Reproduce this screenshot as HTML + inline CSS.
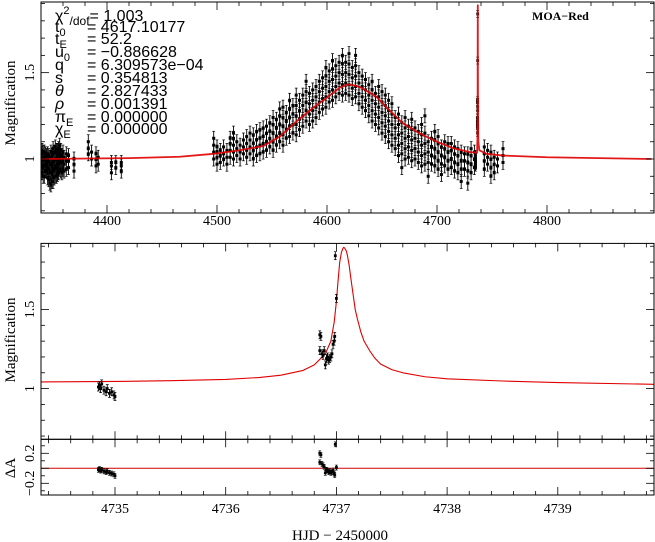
<!DOCTYPE html>
<html><head><meta charset="utf-8">
<style>
html,body{margin:0;padding:0;background:#fff;}
svg{display:block;}
text{font-family:"Liberation Serif",serif;fill:#000;}
.ann{font-family:"Liberation Sans",sans-serif;font-size:16px;}
</style></head>
<body>
<svg id="chart" width="655" height="542" viewBox="0 0 655 542" xmlns="http://www.w3.org/2000/svg">
<defs>
<clipPath id="clipTop"><rect x="41" y="2" width="613" height="211"/></clipPath>
<clipPath id="clipBot"><rect x="41" y="243.4" width="613" height="196"/></clipPath>
<clipPath id="clipRes"><rect x="41" y="439.3" width="613" height="56"/></clipPath>
</defs>
<g id="top"></g>
<g id="bot"></g>
<g id="res"></g>
<g id="ann">
<text class="ann" x="55" y="21">χ<tspan font-size="11" dy="-7">2</tspan><tspan font-size="12" dy="11">/dof</tspan><tspan dy="-4">= 1.003</tspan></text>
<text class="ann" x="55" y="32">t<tspan font-size="11" dy="4">0</tspan><tspan x="87" dy="-4">= 4617.10177</tspan></text>
<text class="ann" x="55" y="44">t<tspan font-size="11" dy="4">E</tspan><tspan x="87" dy="-4">= 52.2</tspan></text>
<text class="ann" x="55" y="57">u<tspan font-size="11" dy="4">0</tspan><tspan x="87" dy="-4">= −0.886628</tspan></text>
<text class="ann" x="55" y="70">q<tspan x="87">= 6.309573e−04</tspan></text>
<text class="ann" x="55" y="83">s<tspan x="87">= 0.354813</tspan></text>
<text class="ann" x="55" y="96" font-style="italic">θ<tspan x="87" font-style="normal">= 2.827433</tspan></text>
<text class="ann" x="55" y="109" font-style="italic">ρ<tspan x="87" font-style="normal">= 0.001391</tspan></text>
<text class="ann" x="55" y="122">π<tspan font-size="11" dy="4">E</tspan><tspan x="87" dy="-4">= 0.000000</tspan></text>
<text class="ann" x="55" y="134">χ<tspan font-size="11" dy="4">E</tspan><tspan x="87" dy="-4">= 0.000000</tspan></text>
</g>
<text x="532" y="20" font-size="12" font-weight="bold">MOA−Red</text>
<text x="340" y="540" font-size="15" text-anchor="middle">HJD − 2450000</text>
<text transform="translate(15,103) rotate(-90)" font-size="15" text-anchor="middle">Magnification</text>
<text transform="translate(15,340) rotate(-90)" font-size="15" text-anchor="middle">Magnification</text>
<text transform="translate(15,468) rotate(-90)" font-size="15" text-anchor="middle">ΔA</text>
</svg>
<script>
// ---- data ----
const modelTopT = [4340,4420,4466,4497,4520,4542,4557,4572,4587,4603,4612,4619,4626,4632,4645,4657,4669,4684,4700,4715,4730,4736.4,4736.8,4736.95,4737.02,4737.07,4737.15,4737.3,4737.6,4738.5,4745,4760,4800,4895];
const modelTopA = [1.0,1.005,1.013,1.03,1.05,1.075,1.13,1.216,1.295,1.37,1.415,1.432,1.425,1.41,1.36,1.28,1.207,1.149,1.10,1.062,1.04,1.036,1.12,1.30,1.7,1.89,1.55,1.22,1.10,1.05,1.03,1.02,1.01,1.0];
const modelBotT = [4734.33,4735,4735.5,4736,4736.3,4736.5,4736.7,4736.8,4736.9,4736.95,4736.98,4737.0,4737.01,4737.03,4737.045,4737.058,4737.066,4737.075,4737.09,4737.1,4737.115,4737.13,4737.15,4737.17,4737.19,4737.22,4737.25,4737.3,4737.35,4737.4,4737.5,4737.6,4737.8,4738,4738.5,4739,4739.87];
const modelBotA = [1.042,1.045,1.050,1.058,1.070,1.085,1.115,1.15,1.22,1.30,1.42,1.55,1.64,1.80,1.86,1.885,1.893,1.888,1.87,1.84,1.78,1.70,1.60,1.50,1.44,1.36,1.30,1.24,1.19,1.155,1.12,1.10,1.075,1.062,1.048,1.038,1.027];
const nightT = [4341,4342,4343,4344,4345,4346,4347,4348,4349,4350,4351,4352,4353,4354,4355,4356,4357,4358,4359,4360,4361,4363,4365,4370,4383,4386,4390,4392,4404,4408,4413,
4497,4500,4503,4506,4509,4512,4515,4518,4521,4524,4527,4530,4533,4536,4539,4542,4545,4548,4551,4554,4557,4560,4563,4566,4569,4572,4575,4578,4581,4584,4587,4590,4593,4596,4599,4602,4605,4608,4611,4614,4617,4620,4623,4626,4629,4632,4635,4638,4641,4644,4647,4650,4653,4656,4659,4662,4665,4668,4671,4674,4677,4680,4683,4686,4689,4692,4695,4698,4701,4704,4707,4710,4713,4716,4719,4722,4725,4728,4731,4734,4743,4746,4749,4752,4755,4760];
const nightA = [[.92,.97,1.0,1.03,1.05],[.90,.95,.99,1.04],[.90,.96,1.01,1.04],[.93,.97,1.0,1.03],[.93,.98,1.02,.96],[.89,.95,.99,1.03],[.88,.94,.99,1.02],[.86,.92,.97,1.01],[.85,.92,.97,1.01,1.04],[.87,.91,.96,1.02],[.87,.93,.98,1.03,1.06],[.89,.94,.99,1.04],[.90,.96,1.0,1.04,1.07],[.90,.95,1.0,1.05],[.91,.97,1.02,1.05],[.92,.97,1.01,1.06],[.94,.99,1.03,1.08],[.93,.98,1.02,1.05],[.92,.98,1.02],[.94,.99,1.04],[.93,.97,1.01],[.94,.99,1.03],[.95,.99,1.02],[.93,.97,1.0],[1.03,1.06,1.10],[1.0,1.04],[.96,1.0,1.03],[.97,1.01],[.92,.96,.98],[.95,.98],[.93,.96,.98],
[1.00,1.04,1.08,1.12],[.97,1.01,1.04,1.07],[.98,1.02,1.05],[1.00,1.03,1.07],[.97,1.01,1.05],[1.01,1.05,1.09,1.12],[1.00,1.04,1.08,1.12,1.15],[1.02,1.06,1.10],[1.00,1.04,1.08],[1.03,1.07,1.11],[1.01,1.05,1.09,1.13],[1.03,1.07,1.11,1.15],[1.00,1.05,1.09,1.14],[1.02,1.07,1.11,1.16],[1.03,1.08,1.12,1.17],[1.04,1.09,1.13,1.18],[1.05,1.10,1.15,1.19],[1.07,1.12,1.16,1.21],[1.05,1.10,1.15,1.20,1.24],[1.08,1.13,1.18,1.23],[1.10,1.15,1.20,1.25,1.29],[1.08,1.14,1.19,1.24,1.30],[1.12,1.17,1.22,1.27],[1.13,1.19,1.24,1.29,1.34],[1.15,1.20,1.26,1.31],[1.14,1.20,1.25,1.31,1.37],[1.17,1.23,1.28,1.34],[1.19,1.25,1.31,1.37],[1.22,1.28,1.33,1.39,1.45],[1.20,1.26,1.32,1.38],[1.22,1.28,1.34,1.40],[1.24,1.30,1.36,1.42],[1.27,1.33,1.39,1.45],[1.29,1.35,1.41,1.47],[1.30,1.36,1.42,1.48,1.53],[1.33,1.39,1.45,1.51],[1.34,1.40,1.46,1.52,1.57],[1.36,1.42,1.48,1.54],[1.38,1.44,1.50,1.56],[1.37,1.43,1.49,1.55,1.60],[1.38,1.44,1.50,1.56],[1.37,1.43,1.49,1.55,1.61],[1.35,1.41,1.47,1.53],[1.36,1.42,1.48,1.54,1.60],[1.32,1.38,1.44,1.50],[1.30,1.36,1.42,1.48],[1.28,1.34,1.40,1.46],[1.25,1.31,1.37,1.43],[1.22,1.28,1.34,1.40,1.45],[1.20,1.26,1.32,1.38],[1.18,1.24,1.30,1.36,1.42],[1.15,1.21,1.27,1.33,1.39],[1.13,1.19,1.25,1.31,1.37],[1.10,1.16,1.22,1.28,1.34],[1.08,1.14,1.20,1.26,1.32],[1.06,1.12,1.18,1.24],[1.02,1.08,1.14,1.20,1.26],[.95,1.03,1.09,1.15,1.21],[1.00,1.06,1.12,1.18,1.24],[1.01,1.07,1.13,1.19],[.99,1.05,1.11,1.17,1.23],[1.00,1.06,1.12,1.18],[.98,1.04,1.10,1.16],[.96,1.02,1.08,1.14,1.20],[.97,1.03,1.09,1.15,1.25],[.90,.98,1.04,1.10],[.97,1.02,1.07,1.12],[.96,1.01,1.06,1.11,1.16],[.94,.99,1.04,1.09,1.13],[.91,.97,1.02,1.07],[.96,1.01,1.06,1.10],[.94,.99,1.04,1.09],[.95,1.00,1.05,1.09],[.93,.98,1.03,1.07],[.92,.97,1.02,1.06],[.87,.94,.99,1.04],[.94,.99,1.03],[.86,.93,.98,1.03],[.92,.97,1.02,1.06],[.95,1.00,1.04],[.94,.99,1.03,1.07],[.97,1.01,1.05],[.90,.95,1.00,1.04],[.92,.97,1.01],[.96,1.00],[.98,1.02,1.06]];
const zoomT = [4734.85,4734.86,4734.87,4734.88,4734.9,4734.92,4734.93,4734.95,4734.97,4734.99,4735.0,4736.85,4736.86,4736.85,4736.87,4736.88,4736.89,4736.9,4736.91,4736.92,4736.93,4736.94,4736.95,4736.96,4736.97,4736.98,4736.985,4736.99,4737.0];
const zoomA = [1.01,1.02,1.00,1.03,0.99,0.98,1.00,0.97,0.98,0.96,0.95,1.34,1.33,1.24,1.22,1.21,1.24,1.15,1.19,1.20,1.18,1.19,1.20,1.22,1.28,1.30,1.33,1.84,1.57];
const residD = [-0.02,-0.01,-0.03,-0.02,-0.04,-0.05,-0.04,-0.06,-0.07,-0.08,-0.10,0.20,0.18,0.08,0.06,0.04,0.02,-0.06,-0.02,-0.03,-0.05,-0.04,-0.06,-0.05,-0.03,-0.07,-0.09,0.32,0.01];
const topXTicks = [4400,4500,4600,4700,4800];
const botXTicks = [4735,4736,4737,4738,4739];
const yTickLabels = ["1","1.5"];
const resTickLabels = ["−0.2","0.2"];

// ---- scales ----
const xT=t=>41+(t-4340)*1.1, yT=a=>159-(a-1)*172.7;
const xB=t=>115+(t-4735)*110.7, yB=a=>388.6-(a-1)*158.2;
const yR=d=>468.3-d*75;
const NS='http://www.w3.org/2000/svg';
function mk(parent,tag,attrs){const e=document.createElementNS(NS,tag);for(const k in attrs)e.setAttribute(k,attrs[k]);parent.appendChild(e);return e;}
function pathFrom(T,A,fx,fy){return T.map((t,i)=>(i?'L':'M')+fx(t).toFixed(2)+','+fy(A[i]).toFixed(2)).join('');}
function point(g,x,y,e,name,sz){
  sz=sz||2.8;
  const grp=mk(g,'g',{});
  
  
  mk(grp,'line',{x1:x,x2:x,y1:y-e,y2:y+e,stroke:'#000','stroke-width':0.9});
  mk(grp,'line',{x1:x-1.4,x2:x+1.4,y1:y-e,y2:y-e,stroke:'#000','stroke-width':0.7});
  mk(grp,'line',{x1:x-1.4,x2:x+1.4,y1:y+e,y2:y+e,stroke:'#000','stroke-width':0.7});
  mk(grp,'rect',{x:x-sz/2,y:y-sz/2,width:sz,height:sz,fill:'#000'});
}
function frame(g,x0,y0,x1,y1,name){
  const r=mk(g,'rect',{x:x0,y:y0,width:x1-x0,height:y1-y0,fill:'none',stroke:'#000','stroke-width':1});
  
  
}
function xticks(g,x0,x1,step,majorEvery,fx,y0,y1,sides){
  for(let v=x0;v<=x1+1e-9;v+=step){
    const vv=Math.round(v*1000)/1000;const maj=Math.abs(vv/majorEvery-Math.round(vv/majorEvery))<1e-6;
    const L=maj?8:4,x=fx(vv);
    if(sides.includes('b'))mk(g,'line',{x1:x,x2:x,y1:y1,y2:y1-L,stroke:'#000','stroke-width':0.8});
    if(sides.includes('t'))mk(g,'line',{x1:x,x2:x,y1:y0,y2:y0+L,stroke:'#000','stroke-width':0.8});
  }
}
function yticks(g,v0,v1,step,majorEvery,fy,x0,x1){
  for(let v=v0;v<=v1+1e-9;v+=step){
    const vv=Math.round(v*1000)/1000;const maj=Math.abs(vv/majorEvery-Math.round(vv/majorEvery))<1e-6;
    const L=maj?8:4,y=fy(vv);
    mk(g,'line',{x1:x0,x2:x0+L,y1:y,y2:y,stroke:'#000','stroke-width':0.8});
    mk(g,'line',{x1:x1,x2:x1-L,y1:y,y2:y,stroke:'#000','stroke-width':0.8});
  }
}
// ---- top panel ----
const gt=document.getElementById('top');
const gtd=mk(gt,'g',{'clip-path':'url(#clipTop)'});
nightT.forEach((t,i)=>nightA[i].forEach(a=>point(gtd,xT(t),yT(a),7,'data-point',3)));
zoomT.forEach((t,i)=>point(gtd,xT(t),yT(zoomA[i]),3.5,'data-point'));
const mt=mk(gtd,'path',{d:pathFrom(modelTopT,modelTopA,xT,yT),fill:'none',stroke:'#e00000','stroke-width':1.8,'stroke-opacity':0.9,'stroke-linejoin':'round'});


frame(gt,41,2,654,213,'top-plot-frame');
xticks(gt,4340,4880,20,100,xT,2,213,'tb');
yticks(gt,0.7,1.9,0.1,0.5,yT,41,654);
topXTicks.forEach(v=>{const t=mk(gt,'text',{x:xT(v),y:225,'font-size':14,'text-anchor':'middle'});t.textContent=v;
  
  });
[1,1.5].forEach((v,i)=>{const t=mk(gt,'text',{transform:`translate(34,${yT(v)}) rotate(-90)`,'font-size':14,'text-anchor':'middle'});t.textContent=yTickLabels[i];
  
  });
// ---- bottom panel ----
const gb=document.getElementById('bot');
const gbd=mk(gb,'g',{'clip-path':'url(#clipBot)'});
const mb=mk(gbd,'path',{d:pathFrom(modelBotT,modelBotA,xB,yB),fill:'none',stroke:'#e00000','stroke-width':1.1,'stroke-linejoin':'round'});


zoomT.forEach((t,i)=>point(gbd,xB(t),yB(zoomA[i]),4,'data-point'));
frame(gb,41,243.4,654,439.3,'zoom-plot-frame');
xticks(gb,4734.4,4739.8,0.2,1,xB,243.4,439.3,'tb');
yticks(gb,0.7,1.9,0.1,0.5,yB,41,654);
[1,1.5].forEach((v,i)=>{const t=mk(gb,'text',{transform:`translate(34,${yB(v)}) rotate(-90)`,'font-size':14,'text-anchor':'middle'});t.textContent=yTickLabels[i];
  
  });
// ---- residual panel ----
const gr=document.getElementById('res');
const grd=mk(gr,'g',{'clip-path':'url(#clipRes)'});
const zl=mk(grd,'line',{x1:41,x2:654,y1:yR(0),y2:yR(0),stroke:'#d00000','stroke-width':1});


zoomT.forEach((t,i)=>point(grd,xB(t),yR(residD[i]),2.5,'residual-point'));
frame(gr,41,439.3,654,495,'residual-plot-frame');
xticks(gr,4734.4,4739.8,0.2,1,xB,439.3,495,'tb');
yticks(gr,-0.3,0.3,0.1,0.2,yR,41,654);
botXTicks.forEach(v=>{const t=mk(gr,'text',{x:xB(v),y:513,'font-size':14,'text-anchor':'middle'});t.textContent=v;
  
  });
[-0.2,0.2].forEach((v,i)=>{const t=mk(gr,'text',{transform:`translate(34,${yR(v)}) rotate(-90)`,'font-size':14,'text-anchor':'middle'});t.textContent=resTickLabels[i];
  
  });
</script>
</body></html>
